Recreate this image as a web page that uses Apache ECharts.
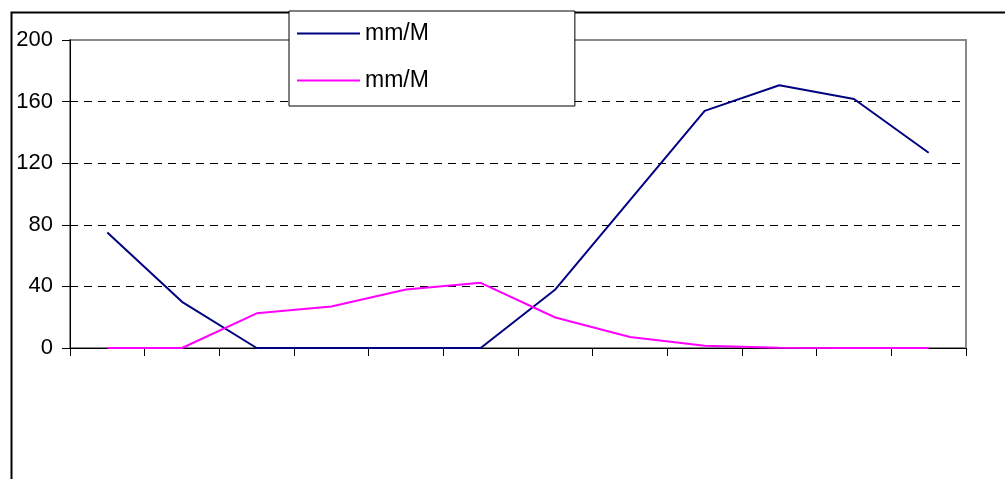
<!DOCTYPE html>
<html>
<head>
<meta charset="utf-8">
<script src="https://cdn.jsdelivr.net/npm/echarts@6/dist/echarts.min.js"></script>
<style>html,body{margin:0;padding:0;background:#fff;}#c{width:1005px;height:479px;}</style>
</head>
<body>
<div id="c"></div>
<script>
var categories = ['1','2','3','4','5','6','7','8','9','10','11','12'];
var seriesNames = ['mm/M', 'mm/M'];
var blueValues = [75, 30, 0, 0, 0, 0, 38, 96, 154, 170.6, 161.7, 126.8];
var pinkValues = [0, 0, 22.5, 27, 38, 42.3, 19.8, 7.1, 1.5, 0.2, 0, 0];
var yTicks = [0, 40, 80, 120, 160, 200];

var lineIcon = 'path://M0,0H63V2H0Z';
var chart = echarts.init(document.getElementById('c'));
chart.setOption({
  animation: false,
  backgroundColor: '#ffffff',
  grid: { left: 70, top: 40, right: 39, bottom: 131, show: true, borderColor: '#8a8a8a', borderWidth: 2, backgroundColor: 'transparent' },
  graphic: [{
    type: 'rect', left: 9, top: 10, z: 0,
    shape: { x: 0, y: 0, width: 1010, height: 480 },
    style: { fill: 'none', stroke: '#000', lineWidth: 2 }
  }],
  legend: {
    left: 289, top: 11, orient: 'vertical',
    backgroundColor: '#fff', borderColor: '#000', borderWidth: 1,
    padding: [11, 146, 14, 8],
    itemWidth: 63, itemHeight: 2, itemGap: 24,
    textStyle: { fontFamily: 'Liberation Sans, Arial, sans-serif', fontSize: 23, color: '#000' },
    data: [{ name: 'blue', icon: lineIcon }, { name: 'pink', icon: lineIcon }],
    formatter: function (n) { return n === 'blue' ? seriesNames[0] : seriesNames[1]; },
    z: 10
  },
  xAxis: {
    type: 'category', data: categories, boundaryGap: true,
    axisLine: { show: true, lineStyle: { color: '#000', width: 1 } },
    axisTick: { show: true, inside: false, length: 8, lineStyle: { color: '#000' } },
    axisLabel: { show: false },
    splitLine: { show: false }
  },
  yAxis: {
    type: 'value', min: 0, max: 200, interval: 40,
    axisLine: { show: true, lineStyle: { color: '#000', width: 1 } },
    axisTick: { show: true, inside: false, length: 8, lineStyle: { color: '#000' } },
    axisLabel: {
      margin: 17, fontFamily: 'Liberation Sans, Arial, sans-serif', fontSize: 22, color: '#000',
      formatter: function (v) { return yTicks.indexOf(v) >= 0 ? String(v) : ''; }
    },
    splitLine: { show: true, showMinLine: false, showMaxLine: false, lineStyle: { color: '#000', type: [8, 6], width: 1 } }
  },
  series: [
    { name: 'blue', type: 'line', data: blueValues, symbol: 'none', z: 3,
      lineStyle: { color: '#000080', width: 2 }, itemStyle: { color: '#000080' } },
    { name: 'pink', type: 'line', data: pinkValues, symbol: 'none', z: 4,
      lineStyle: { color: '#FF00FF', width: 2 }, itemStyle: { color: '#FF00FF' } }
  ]
});
</script>
</body>
</html>
